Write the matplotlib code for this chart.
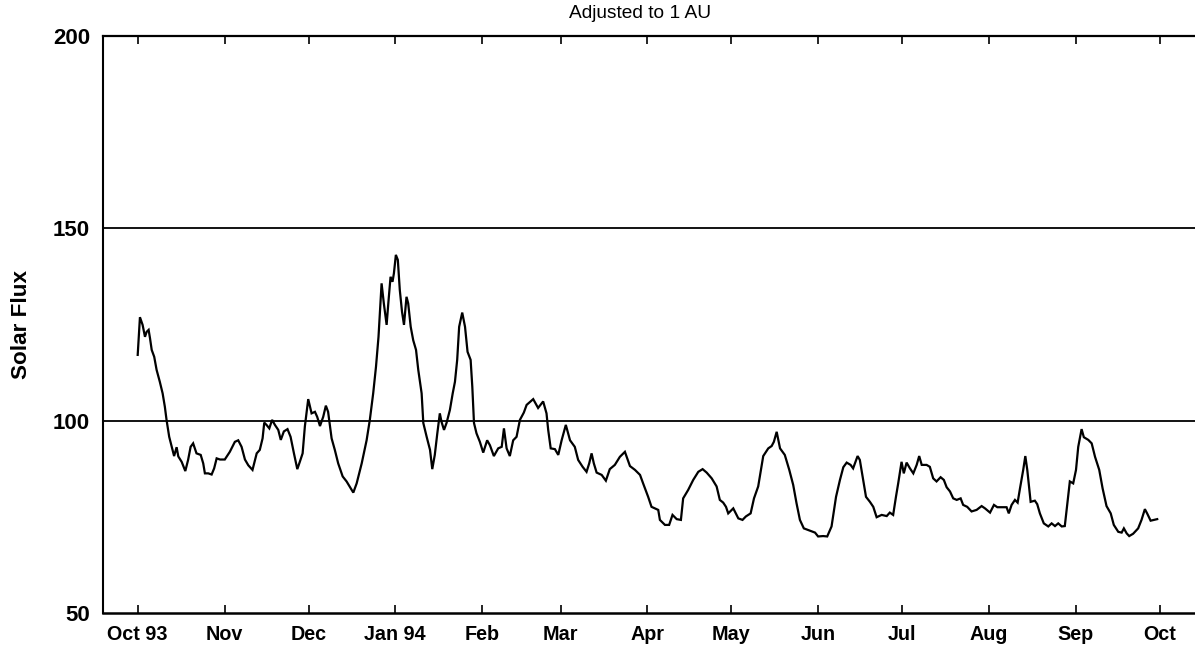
import matplotlib
matplotlib.use('Agg')
import matplotlib.pyplot as plt
import matplotlib.dates as mdates
import numpy as np
from datetime import datetime

plt.rcParams['font.family'] = ['Liberation Sans', 'DejaVu Sans']

# days since 1 Oct 1993
days = [0.0, 0.8, 1.75, 2.6, 3.2, 3.9, 4.4, 5.0, 5.9, 6.75, 7.9, 8.9, 9.7, 10.3, 11.25,
        12.3, 13.0, 13.9, 14.5, 15.7, 17.0, 18.0, 18.9, 19.8, 21.0, 22.5, 23.4, 24.0,
        25.2, 26.4, 27.3, 28.2, 29.4, 31.1, 32.9, 34.7, 35.9, 37.1, 38.3, 39.5, 41.0,
        42.5, 43.6, 44.6, 45.2, 46.0, 47.0, 48.0, 49.0, 50.2, 51.1, 52.2, 53.5, 54.6,
        55.8, 57.0, 57.9, 58.9, 59.7, 60.9, 62.1, 63.3, 64.1, 65.1, 66.25, 67.2, 68.0,
        69.25, 70.4, 71.6, 73.2, 74.6, 76.4, 77.0, 78.2, 80.0, 81.75, 82.9, 84.1, 85.1,
        86.0, 87.1, 87.9, 88.9, 89.5, 90.3, 91.0, 91.5, 92.2, 92.9, 93.6, 94.4, 95.1,
        96.0, 96.6, 97.5, 98.4, 99.4, 100.2, 101.4, 102.0, 103.2, 104.4, 105.2, 106.1,
        107.0, 107.9, 108.5, 109.4, 110.3, 111.5, 112.5, 113.3, 114.1, 114.8, 115.9,
        116.9, 117.8, 118.9, 119.5, 120.1, 121.0, 122.2, 123.4, 124.8, 125.8, 127.2,
        128.75, 130.0, 130.8, 131.75, 132.9, 134.1, 135.3, 136.5, 137.9, 138.9, 141.25,
        143.0, 144.8, 146.0, 146.6, 147.5, 149.0, 150.2, 151.4, 152.9, 154.4, 156.1,
        157.3, 158.9, 160.3, 161.25, 162.1, 162.9, 163.9, 165.7, 167.2, 168.6, 170.4,
        172.2, 174.0, 175.8, 177.6, 179.4, 180.5, 182.3, 183.5, 184.7, 185.9, 186.5,
        188.3, 189.8, 191.0, 192.5, 194.0, 194.8, 196.6, 198.4, 200.2, 201.75, 203.2,
        205.0, 206.75, 207.9, 209.1, 210.1, 210.9, 212.7, 214.5, 216.0, 217.2, 218.9,
        220.1, 221.6, 223.4, 225.2, 226.4, 227.2, 228.2, 229.4, 231.1, 232.7, 234.1,
        235.3, 236.5, 237.9, 240.1, 241.9, 243.0, 244.8, 246.25, 247.8, 249.4, 250.8,
        252.0, 253.2, 254.6, 255.5, 257.1, 257.9, 259.1, 260.1, 261.5, 262.7, 263.9,
        265.7, 267.5, 268.6, 269.8, 270.8, 271.6, 272.8, 273.6, 274.6, 275.8, 277.0,
        278.2, 279.1, 280.0, 281.75, 282.9, 284.1, 285.3, 286.75, 287.9, 288.9, 290.1,
        291.25, 292.5, 293.9, 294.8, 296.25, 297.8, 299.6, 301.4, 302.6, 304.4, 305.8,
        307.0, 308.5, 310.3, 311.1, 312.1, 313.3, 314.25, 315.1, 316.25, 317.0, 317.7,
        318.9, 320.4, 321.25, 322.2, 323.6, 325.2, 326.4, 327.6, 328.75, 330.0, 331.1,
        332.0, 332.9, 334.1, 335.1, 335.9, 337.1, 337.9, 339.5, 340.7, 341.9, 343.4,
        344.6, 346.0, 347.5, 348.6, 350.2, 351.4, 352.2, 353.2, 354.1, 355.5, 357.3,
        358.5, 359.7, 360.5, 361.75, 362.9, 364.1]

flux = [117.1, 126.9, 124.9, 121.8, 123.1, 123.6, 121.4, 118.4, 116.6, 113.2, 110.1,
        107.1, 103.6, 100.2, 95.8, 92.8, 90.8, 93.1, 90.7, 89.3, 86.9, 89.8, 93.2, 94.1,
        91.5, 91.1, 88.9, 86.3, 86.3, 86.0, 87.6, 90.2, 89.9, 89.9, 91.9, 94.5, 94.9,
        93.2, 89.9, 88.4, 87.2, 91.5, 92.4, 95.4, 99.5, 98.9, 98.0, 100.2, 98.9, 97.6,
        95.0, 97.2, 97.8, 95.8, 91.5, 87.4, 89.3, 91.5, 98.5, 105.6, 101.9, 102.3, 101.0,
        98.6, 101.0, 103.9, 102.3, 95.4, 92.4, 88.9, 85.5, 84.2, 82.0, 81.3, 83.7, 88.9,
        94.9, 100.2, 107.1, 114.0, 121.8, 135.7, 130.5, 124.9, 130.5, 137.4, 136.1, 138.3,
        143.1, 141.8, 134.0, 128.3, 124.9, 132.2, 130.5, 124.4, 120.9, 118.4, 113.2, 107.1,
        99.4, 95.8, 92.4, 87.4, 91.1, 96.7, 101.9, 99.7, 97.6, 99.4, 102.8, 107.1, 110.1,
        115.8, 124.4, 128.1, 124.4, 117.9, 115.8, 108.8, 99.4, 96.7, 94.5, 91.7, 94.9,
        93.6, 90.8, 92.8, 93.2, 98.0, 92.8, 90.8, 94.9, 95.8, 100.2, 102.1, 104.1, 105.6,
        103.3, 105.0, 101.9, 97.6, 92.8, 92.6, 91.1, 94.9, 98.9, 94.9, 93.2, 89.8, 88.0,
        86.7, 88.9, 91.5, 88.9, 86.5, 85.9, 84.4, 87.4, 88.5, 90.6, 91.9, 88.2, 87.2,
        85.9, 83.7, 80.2, 77.6, 77.2, 76.8, 74.2, 72.9, 72.9, 75.5, 74.4, 74.2, 79.8, 82.0,
        84.6, 86.7, 87.4, 86.5, 85.0, 82.9, 79.4, 78.7, 77.6, 75.9, 77.2, 74.6, 74.2, 75.1,
        75.9, 79.8, 82.9, 90.8, 92.8, 93.4, 94.5, 97.1, 92.8, 91.1, 87.2, 83.3, 78.5, 74.2,
        72.0, 71.4, 70.9, 69.9, 70.0, 69.9, 72.5, 80.2, 84.6, 87.9, 89.1, 88.5, 87.6, 90.8,
        89.8, 84.6, 80.2, 78.9, 77.6, 74.9, 75.5, 75.2, 76.1, 75.5, 80.2, 83.7, 89.3, 86.3,
        89.1, 87.6, 86.3, 88.5, 90.8, 88.5, 88.5, 88.0, 85.0, 84.2, 85.3, 84.6, 82.7, 81.6,
        79.8, 79.4, 79.8, 78.1, 77.6, 76.4, 76.8, 77.8, 77.2, 76.1, 78.1, 77.5, 77.5, 77.5,
        75.9, 78.1, 79.4, 78.7, 82.4, 87.2, 90.8, 87.2, 78.9, 79.2, 78.3, 75.9, 73.3, 72.5,
        73.3, 72.6, 73.3, 72.5, 72.6, 78.5, 84.2, 83.7, 87.2, 93.2, 97.8, 95.7, 95.0, 94.1,
        90.6, 87.2, 82.4, 77.8, 75.9, 72.9, 71.1, 70.9, 72.0, 70.7, 70.0, 70.6, 72.0, 74.2,
        77.0, 75.9, 74.0, 74.2, 74.4]

month_ticks = [datetime(1993, 10, 1), datetime(1993, 11, 1), datetime(1993, 12, 1),
               datetime(1994, 1, 1), datetime(1994, 2, 1), datetime(1994, 3, 1),
               datetime(1994, 4, 1), datetime(1994, 5, 1), datetime(1994, 6, 1),
               datetime(1994, 7, 1), datetime(1994, 8, 1), datetime(1994, 9, 1),
               datetime(1994, 10, 1)]
month_labels = ['Oct 93', 'Nov', 'Dec', 'Jan 94', 'Feb', 'Mar', 'Apr', 'May', 'Jun',
                'Jul', 'Aug', 'Sep', 'Oct']
y_ticks = [50, 100, 150, 200]
ref_lines = [100, 150]

base = mdates.date2num(datetime(1993, 10, 1))
x = base + np.array(days)

W, H = 1195, 653
fig = plt.figure(figsize=(W / 100, H / 100), dpi=100)
left_px, top_px, bottom_px = 102.7, 36, 613
ax = fig.add_axes([left_px / W, 1 - bottom_px / H, 1 - left_px / W, (bottom_px - top_px) / H])

ax.plot(x, flux, color='black', lw=1.6, solid_joinstyle='miter')
for r in ref_lines:
    ax.axhline(r, color='black', lw=1.3)

ax.set_ylim(50, 200)
ax.set_xlim(base - 12.5, base + 377.6)

ax.set_yticks(y_ticks)
ax.set_yticklabels([str(v) for v in y_ticks], fontsize=16, fontweight='bold')
ax.set_xticks(mdates.date2num(month_ticks))
ax.set_xticklabels(month_labels, fontsize=14.2, fontweight='bold')

ax.tick_params(axis='x', direction='in', length=6, width=1.2, top=True, pad=9)
ax.tick_params(axis='y', length=0, pad=9)

ax.spines['right'].set_visible(False)
ax.spines['top'].set_linewidth(1.6)
ax.spines['bottom'].set_linewidth(1.8)
ax.spines['left'].set_linewidth(1.5)

fig.text(640 / W, 1 - 13 / H, 'Adjusted to 1 AU', ha='center', va='center', fontsize=13.8)
fig.text(22 / W, 1 - 325 / H, 'Solar Flux', ha='center', va='center', rotation=90,
         fontsize=16.2, fontweight='bold')

fig.savefig('out.png', dpi=100)
